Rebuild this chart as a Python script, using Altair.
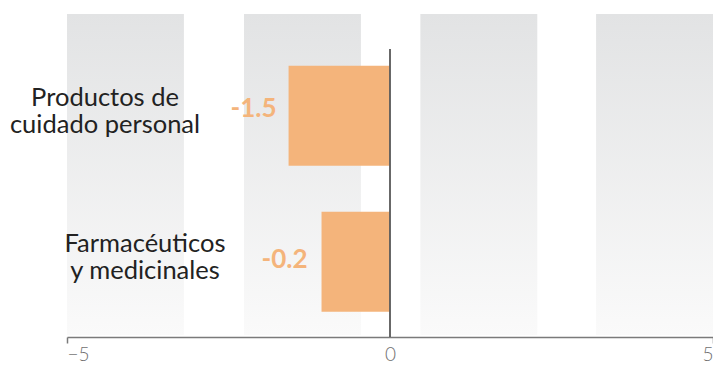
import altair as alt
import pandas as pd

# ---- data ----
categories = ["Productos de cuidado personal", "Farmacéuticos y medicinales"]
label_lines = ["Productos de\ncuidado personal", "Farmacéuticos\ny medicinales"]
bar_values = [-1.57, -1.06]
value_labels = ["-1.5", "-0.2"]

band_starts = [-5.0, -2.26, 0.47, 3.19]
band_ends = [-3.19, -0.45, 2.28, 5.0]

tick_values = [-5, 0, 5]

# ---- styling (kept apart from the data) ----
W, H = 646, 325
ORANGE = "#f4b47b"
FONT = "Lato"
cat_label_x = [38, 78]      # centre of each category label, px from plot left
value_dy = [1, 6]
value_dx = [-12, -14]

df = pd.DataFrame({
    "cat": categories,
    "lines": label_lines,
    "value": bar_values,
    "vlabel": value_labels,
})
bands = pd.DataFrame({"start": band_starts, "end": band_ends})

xscale = alt.Scale(domain=[-5, 5], nice=False, zero=False)
yscale = alt.Scale(domain=categories, paddingInner=0.315, paddingOuter=0.27, align=0.68)

gradient = alt.LinearGradient(
    gradient="linear",
    stops=[alt.GradientStop(color="#e2e3e4", offset=0),
           alt.GradientStop(color="#fafafa", offset=1)],
    x1=0, x2=0, y1=0, y2=1,
)

band_layer = alt.Chart(bands).mark_rect(color=gradient).encode(
    x=alt.X("start:Q", scale=xscale,
            axis=alt.Axis(values=tick_values, title=None, grid=False,
                          domainColor="#7a7a7a", domainWidth=1.5,
                          tickColor="#7a7a7a", tickWidth=1.5, tickSize=6,
                          tickOpacity=alt.expr("datum.value == 0 ? 0 : 1"),
                          labelFont=FONT, labelFontSize=19, labelFontWeight=300,
                          labelColor="#707070", labelPadding=2, format="d")),
    x2="end:Q",
    y=alt.value(2),
    y2=alt.value(H - 2),
)

bar_layer = alt.Chart(df).mark_bar(color=ORANGE).encode(
    x=alt.X("value:Q", scale=xscale),
    y=alt.Y("cat:N", scale=yscale, axis=None, sort=categories),
)

zero_rule = alt.Chart(df).mark_rule(color="#5e5e5e", strokeWidth=1.5).encode(
    x=alt.datum(0, scale=xscale),
    y=alt.value(37),
    y2=alt.value(H),
)

layers = [band_layer, bar_layer, zero_rule]

for i, cat in enumerate(categories):
    base = alt.Chart(df).transform_filter(alt.datum.cat == cat)
    layers.append(
        base.mark_text(font=FONT, fontSize=25.5, color="#222222", align="center",
                       baseline="alphabetic", lineBreak="\n", lineHeight=27, dy=-10).encode(
            x=alt.value(cat_label_x[i]),
            y=alt.Y("cat:N", scale=yscale, axis=None, sort=categories),
            text="lines:N",
        )
    )
    layers.append(
        base.mark_text(font=FONT, fontSize=26, fontWeight="bold", color=ORANGE,
                       align="right", baseline="alphabetic",
                       dx=value_dx[i], dy=value_dy[i]).encode(
            x=alt.X("value:Q", scale=xscale),
            y=alt.Y("cat:N", scale=yscale, axis=None, sort=categories),
            text="vlabel:N",
        )
    )

chart = alt.layer(*layers).properties(
    width=W, height=H,
    autosize=alt.AutoSizeParams(type="none"),
    padding={"left": 59, "top": 4, "right": 0, "bottom": 28},
).configure_view(stroke=None)

chart.save("out.html", embed_options={"renderer": "svg", "actions": False})
